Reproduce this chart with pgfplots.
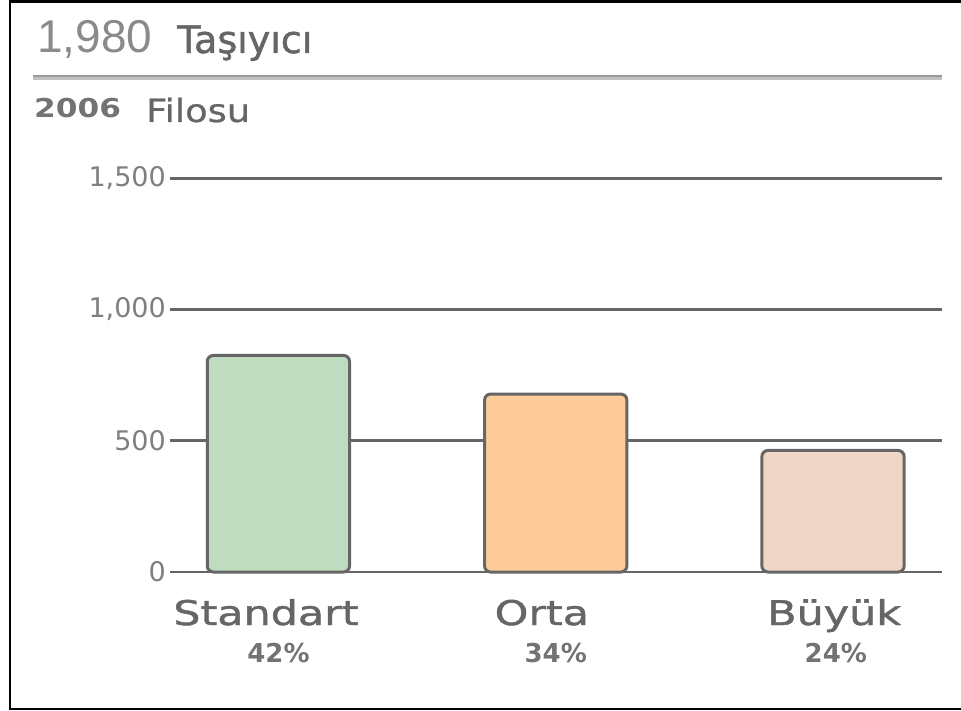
\documentclass[border=0pt]{standalone}
\usepackage{pgfplots}
\pgfplotsset{compat=1.18}
\usepackage{fontspec}
\setmainfont{DejaVu Sans}
\newfontfamily\titlefont{Liberation Sans}
\newfontfamily\headfont[FakeBold=1.3]{DejaVu Sans}
\newfontfamily\catfont[FakeStretch=1.26,FakeBold=1.3]{DejaVu Sans}
\newfontfamily\yearfont[FakeStretch=1.2]{DejaVu Sans}
\newfontfamily\filofont[FakeStretch=1.15,FakeBold=0.8]{DejaVu Sans}
\definecolor{gridgray}{HTML}{666666}
\definecolor{bardraw}{HTML}{666666}
\definecolor{txtgray}{HTML}{666666}
\definecolor{ticktxt}{HTML}{7F7F7F}
\definecolor{pcttxt}{HTML}{737373}
\definecolor{numgray}{HTML}{8A8A8A}
\definecolor{sepdark}{HTML}{999999}
\definecolor{seplight}{HTML}{C0C0C0}
\definecolor{cstd}{HTML}{C0DCC0}
\definecolor{corta}{HTML}{FECC98}
\definecolor{cbuy}{HTML}{EFD6C6}
\begin{document}
\begin{tikzpicture}[x=1pt,y=1pt]
% frame (left, top, bottom)
\draw[line width=2.7pt, black] (961,-1.3) -- (10,-1.3) -- (10,-709) -- (961,-709);
% separator
\draw[line width=2.3pt, sepdark] (33,-76.2) -- (942,-76.2);
\draw[line width=2.7pt, seplight] (33,-78.6) -- (942,-78.6);
% titles
\node[anchor=base west, inner sep=0pt, text=numgray, font=\titlefont\fontsize{46}{46}\selectfont] at (37,-53) {1,980};
\node[anchor=base west, inner sep=0pt, text=txtgray, font=\headfont\fontsize{38}{38}\selectfont] at (177,-53) {Taşıyıcı};
\node[anchor=base west, inner sep=0pt, text=pcttxt, font=\yearfont\bfseries\fontsize{26}{26}\selectfont] at (34,-118) {2006};
\node[anchor=base west, inner sep=0pt, text=txtgray, font=\filofont\fontsize{32}{32}\selectfont] at (146,-122) {Filosu};
\begin{axis}[
  at={(170pt,-572pt)}, anchor=south west,
  scale only axis, width=772pt, height=393.7pt,
  xmin=-0.391, xmax=2.393, ymin=0, ymax=1500,
  axis line style={draw=none},
  major tick length=0pt,
  xtick=\empty,
  ytick={0,500,1000,1500},
  ymajorgrids,
  major grid style={line width=2.6pt, color=gridgray},
  yticklabel style={font=\fontsize{27}{27}\selectfont, text=ticktxt, anchor=east, inner sep=0pt, xshift=-4pt},
  /pgf/number format/1000 sep={,},
  /pgf/number format/assume math mode=true,
  clip=false,
  every axis plot/.append style={ybar, bar width=0.513, bar shift=0pt, line width=3pt, draw=bardraw, rounded corners=6pt},
]
\addplot[fill=cstd] coordinates {(0,825)};
\addplot[fill=corta] coordinates {(1,678)};
\addplot[fill=cbuy] coordinates {(2,463)};
\node[anchor=base, inner sep=0pt, text=txtgray, font=\catfont\fontsize{34}{34}\selectfont] at ([yshift=-53pt]axis cs:-0.045,0) {Standart};
\node[anchor=base, inner sep=0pt, text=txtgray, font=\catfont\fontsize{34}{34}\selectfont] at ([yshift=-53pt]axis cs:0.95,0) {Orta};
\node[anchor=base, inner sep=0pt, text=txtgray, font=\catfont\fontsize{34}{34}\selectfont] at ([yshift=-53pt]axis cs:2.004,0) {Büyük};
\node[anchor=base, inner sep=0pt, text=pcttxt, font=\bfseries\fontsize{26}{26}\selectfont] at ([yshift=-90pt]axis cs:0,0) {42\%};
\node[anchor=base, inner sep=0pt, text=pcttxt, font=\bfseries\fontsize{26}{26}\selectfont] at ([yshift=-90pt]axis cs:1,0) {34\%};
\node[anchor=base, inner sep=0pt, text=pcttxt, font=\bfseries\fontsize{26}{26}\selectfont] at ([yshift=-90pt]axis cs:2.01,0) {24\%};
\end{axis}
\pgfresetboundingbox
\path[use as bounding box] (0,0) rectangle (961,-711);
\end{tikzpicture}
\end{document}
